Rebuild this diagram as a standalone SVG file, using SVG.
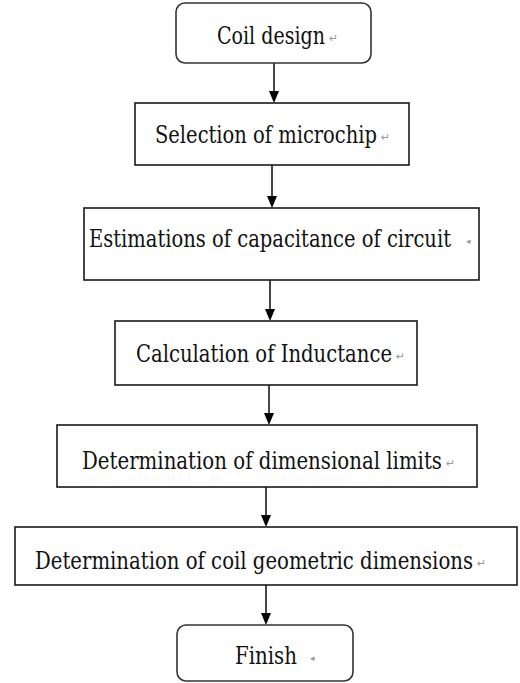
<svg xmlns="http://www.w3.org/2000/svg" width="520" height="683" viewBox="0 0 520 683">
<style>
.box{fill:#fff;stroke:#1a1a1a;stroke-width:1.6}
.rbox{fill:#fff;stroke:#333;stroke-width:1.6}
.t{font-family:"DejaVu Serif","Liberation Serif",serif;font-size:18px;fill:#111}
.rm{font-family:"DejaVu Sans",sans-serif;font-size:11px;fill:#999}
.sm{font-family:"DejaVu Sans",sans-serif;font-size:9px;fill:#999}
.c{stroke:#1a1a1a;stroke-width:1.6;fill:none}
</style>
<rect width="520" height="683" fill="#fff"/>
<g id="connectors">
<line class="c" x1="274" y1="63" x2="274" y2="92"/>
<line class="c" x1="272" y1="165" x2="272" y2="197"/>
<line class="c" x1="270" y1="280" x2="270" y2="310"/>
<line class="c" x1="269" y1="385" x2="269" y2="414"/>
<line class="c" x1="266" y1="487" x2="266" y2="516"/>
<line class="c" x1="266" y1="585" x2="266" y2="614"/>
<path d="M269,91 L279,91 L274,103 Z" fill="#000"/>
<path d="M267,196 L277,196 L272,208 Z" fill="#000"/>
<path d="M265,309 L275,309 L270,321 Z" fill="#000"/>
<path d="M264,413 L274,413 L269,425 Z" fill="#000"/>
<path d="M261,515 L271,515 L266,527 Z" fill="#000"/>
<path d="M261,613 L271,613 L266,625 Z" fill="#000"/>
</g>
<g id="n1">
<rect class="rbox" x="176" y="3" width="195" height="60" rx="9"/>
<text class="t" transform="translate(217,44) scale(1,1.3)" x="0" y="0" textLength="108" lengthAdjust="spacingAndGlyphs">Coil design</text>
<text class="rm" x="329" y="42">↵</text>
</g>
<g id="n2">
<rect class="box" x="135" y="103" width="274" height="62"/>
<text class="t" transform="translate(155,143) scale(1,1.3)" x="0" y="0" textLength="222" lengthAdjust="spacingAndGlyphs">Selection of microchip</text>
<text class="rm" x="381" y="141">↵</text>
</g>
<g id="n3">
<rect class="box" x="84" y="208" width="395" height="72"/>
<text class="t" transform="translate(89,247) scale(1,1.3)" x="0" y="0" textLength="362" lengthAdjust="spacingAndGlyphs">Estimations of capacitance of circuit</text>
<text class="sm" x="466" y="244">◂</text>
</g>
<g id="n4">
<rect class="box" x="115" y="321" width="302" height="64"/>
<text class="t" transform="translate(136,362) scale(1,1.3)" x="0" y="0" textLength="256" lengthAdjust="spacingAndGlyphs">Calculation of Inductance</text>
<text class="rm" x="396" y="360">↵</text>
</g>
<g id="n5">
<rect class="box" x="57" y="425" width="420" height="62"/>
<text class="t" transform="translate(82,469) scale(1,1.3)" x="0" y="0" textLength="360" lengthAdjust="spacingAndGlyphs">Determination of dimensional limits</text>
<text class="rm" x="446" y="467">↵</text>
</g>
<g id="n6">
<rect class="box" x="15" y="527" width="502" height="58"/>
<text class="t" transform="translate(35,569) scale(1,1.3)" x="0" y="0" textLength="438" lengthAdjust="spacingAndGlyphs">Determination of coil geometric dimensions</text>
<text class="rm" x="477" y="567">↵</text>
</g>
<g id="n7">
<rect class="rbox" x="177" y="625" width="176" height="56" rx="9"/>
<text class="t" transform="translate(235,664) scale(1,1.3)" x="0" y="0" textLength="62" lengthAdjust="spacingAndGlyphs">Finish</text>
<text class="sm" x="310" y="661">◂</text>
</g>
</svg>
